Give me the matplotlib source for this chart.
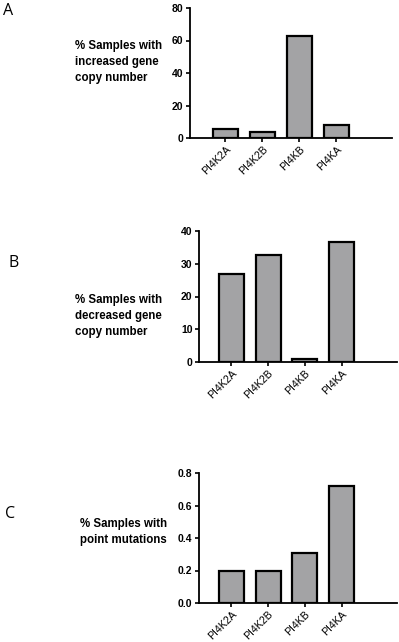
"""Three-panel bar chart of PI4K gene alterations (copy number gain/loss, point mutations)."""

import matplotlib

matplotlib.use("Agg")

import matplotlib.pyplot as plt
import matplotlib.transforms as mtransforms
import numpy as np

GENES = ["PI4K2A", "PI4K2B", "PI4KB", "PI4KA"]
INCREASED_CN = [5.5, 3.7, 62.8, 8.0]
DECREASED_CN = [27.0, 32.6, 0.9, 36.6]
POINT_MUT = [0.20, 0.20, 0.307, 0.72]

PANEL_LETTERS = ["A", "B", "C"]
YLABELS = [
    "% Samples with\nincreased gene\ncopy number",
    "% Samples with\ndecreased gene\ncopy number",
    "% Samples with\npoint mutations",
]
YTICKS = [
    [0, 20, 40, 60, 80],
    [0, 10, 20, 30, 40],
    [0.0, 0.2, 0.4, 0.6, 0.8],
]
YTICK_FMT = ["{:.0f}", "{:.0f}", "{:.1f}"]

BAR_COLOR = "#a3a3a5"
W, H = 399, 642

# axes boxes in pixels: left, top, right, bottom
AX_BOXES = [
    (190, 8, 392, 138),
    (199, 231, 397, 362),
    (199, 473, 397, 603),
]
XLIMS = [(-0.96, 4.51), (-0.885, 4.51), (-0.885, 4.51)]
LETTER_POS = [(3, 11), (8, 263), (5, 514)]
YLABEL_POS = [(75, 62), (75, 316), (80, 532)]


def draw_panel(fig, box, values, ticks, fmt, xlim):
    left, top, right, bottom = box
    ax = fig.add_axes([left / W, 1 - bottom / H, (right - left) / W, (bottom - top) / H])
    x = np.arange(len(GENES))
    ax.bar(x, values, width=0.68, color=BAR_COLOR, edgecolor="black", linewidth=1.6)
    ax.set_xlim(*xlim)
    ax.set_ylim(ticks[0], ticks[-1])
    ax.set_yticks(ticks)
    ax.set_yticklabels([fmt.format(t) for t in ticks], fontsize=7.5, fontweight="bold",
                       family="Liberation Sans")
    ax.set_xticks(x)
    ax.set_xticklabels(GENES, rotation=45, ha="right", rotation_mode="anchor",
                       fontsize=7.6, family="Liberation Sans")
    shift = mtransforms.ScaledTranslation(3 / 100, 0, fig.dpi_scale_trans)
    for lab in ax.get_xticklabels():
        lab.set_transform(lab.get_transform() + shift)
    for side in ("top", "right"):
        ax.spines[side].set_visible(False)
    for side in ("left", "bottom"):
        ax.spines[side].set_linewidth(1.3)
    ax.tick_params(axis="both", length=3.2, width=1.2, pad=1.5)
    return ax


fig = plt.figure(figsize=(W / 100, H / 100), dpi=100)
data = [INCREASED_CN, DECREASED_CN, POINT_MUT]
for i in range(3):
    draw_panel(fig, AX_BOXES[i], data[i], YTICKS[i], YTICK_FMT[i], XLIMS[i])
    lx, ly = LETTER_POS[i]
    fig.text(lx / W, 1 - ly / H, PANEL_LETTERS[i], fontsize=11.5, family="Open Sans",
             va="center", ha="left")
    tx, ty = YLABEL_POS[i]
    fig.text(tx / W, 1 - ty / H, YLABELS[i], fontsize=8.3, fontweight="bold",
             family="Liberation Sans", va="center", ha="left", linespacing=1.4)

fig.savefig("out.png", dpi=100)
